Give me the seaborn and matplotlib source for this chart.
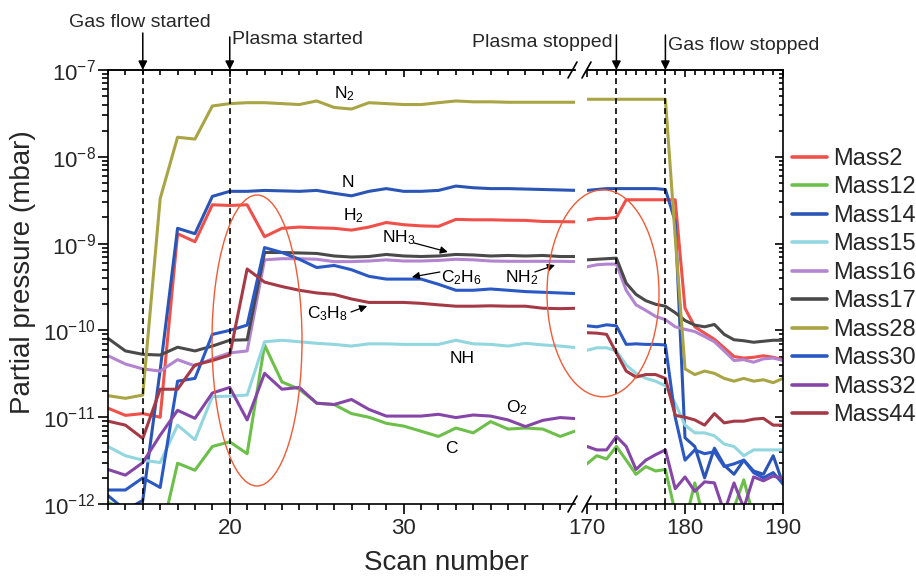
import matplotlib
matplotlib.use("Agg")
import matplotlib.pyplot as plt
import matplotlib.transforms as mtransforms
import numpy as np
import pandas as pd
import seaborn as sns
from matplotlib.patches import Ellipse
from matplotlib.lines import Line2D
from matplotlib.ticker import LogLocator, MultipleLocator, LogFormatterMathtext, NullFormatter

# ---------------- data ----------------
scans_left = list(range(13, 41))
scans_right = list(range(170, 191))

series_names = ["Mass2", "Mass12", "Mass14", "Mass15", "Mass16",
                "Mass17", "Mass28", "Mass30", "Mass32", "Mass44"]
series_colors = ["#f0504a", "#6cc04a", "#2a55b5", "#92d6e0", "#b384cf",
                 "#4a4a4a", "#a9a444", "#2a58c4", "#8646a8", "#a53a46"]

mass2_left = [1.27e-11, 1.05e-11, 1.1e-11, 1.0e-11, 1.3e-9, 1.05e-9, 2.8e-9, 2.75e-9, 2.8e-9, 1.2e-9,
              1.5e-9, 1.55e-9, 1.52e-9, 1.5e-9, 1.43e-9, 1.55e-9, 1.75e-9, 1.65e-9, 1.6e-9, 1.58e-9,
              1.9e-9, 1.88e-9, 1.88e-9, 1.86e-9, 1.85e-9, 1.8e-9, 1.79e-9, 1.78e-9]
mass12_left = [1.05e-12, 0.85e-12, 0.9e-12, 0.4e-12, 2.95e-12, 2.45e-12, 4.6e-12, 5.2e-12, 3.8e-12, 6.8e-11,
               2.55e-11, 2.1e-11, 1.45e-11, 1.4e-11, 1.1e-11, 1.0e-11, 8.5e-12, 7.9e-12, 6.9e-12, 6.0e-12,
               7.5e-12, 6.6e-12, 8.9e-12, 7.3e-12, 7.5e-12, 7.3e-12, 6.0e-12, 7.1e-12]
mass14_left = [1.25e-12, 0.85e-12, 1.1e-12, 3.5e-11, 1.5e-9, 1.3e-9, 3.5e-9, 4.0e-9, 4.0e-9, 4.1e-9,
               4.05e-9, 4.0e-9, 4.1e-9, 3.8e-9, 3.55e-9, 4.0e-9, 4.3e-9, 4.0e-9, 4.0e-9, 4.1e-9,
               4.6e-9, 4.4e-9, 4.3e-9, 4.3e-9, 4.25e-9, 4.2e-9, 4.15e-9, 4.1e-9]
mass15_left = [4.6e-12, 3.6e-12, 3.2e-12, 3.0e-12, 8.1e-12, 5.5e-12, 1.72e-11, 1.75e-11, 1.8e-11, 7.4e-11,
               7.7e-11, 7.4e-11, 7.1e-11, 6.9e-11, 6.6e-11, 7.0e-11, 7.0e-11, 6.9e-11, 6.9e-11, 6.9e-11,
               7.7e-11, 7.0e-11, 6.9e-11, 6.6e-11, 7.1e-11, 6.8e-11, 6.6e-11, 6.3e-11]
mass16_left = [5.1e-11, 4.1e-11, 3.6e-11, 3.4e-11, 4.6e-11, 3.9e-11, 4.7e-11, 5.5e-11, 5.8e-11, 6.5e-10,
               6.7e-10, 6.7e-10, 6.6e-10, 6.2e-10, 6.2e-10, 6.3e-10, 6.5e-10, 6.3e-10, 6.3e-10, 6.4e-10,
               6.6e-10, 6.5e-10, 6.3e-10, 6.25e-10, 6.25e-10, 6.25e-10, 6.25e-10, 6.2e-10]
mass17_left = [8.1e-11, 5.8e-11, 5.3e-11, 5.2e-11, 6.4e-11, 5.8e-11, 6.6e-11, 7.7e-11, 7.8e-11, 7.9e-10,
               7.9e-10, 7.8e-10, 7.7e-10, 7.2e-10, 7.0e-10, 7.1e-10, 7.5e-10, 7.2e-10, 7.1e-10, 7.2e-10,
               7.5e-10, 7.4e-10, 7.2e-10, 7.3e-10, 7.2e-10, 7.3e-10, 7.1e-10, 7.1e-10]
mass28_left = [1.77e-11, 1.65e-11, 1.8e-11, 3.3e-9, 1.68e-8, 1.6e-8, 3.85e-8, 4.1e-8, 4.2e-8, 4.2e-8,
               4.1e-8, 4.0e-8, 4.4e-8, 3.7e-8, 3.55e-8, 4.2e-8, 4.1e-8, 4.0e-8, 4.0e-8, 4.2e-8,
               4.4e-8, 4.3e-8, 4.3e-8, 4.25e-8, 4.25e-8, 4.25e-8, 4.25e-8, 4.25e-8]
mass30_left = [1.45e-12, 1.45e-12, 2.0e-12, 1.55e-12, 2.6e-11, 2.8e-11, 9.0e-11, 1.0e-10, 1.15e-10, 9.0e-10,
               7.9e-10, 6.6e-10, 5.3e-10, 5.6e-10, 5.0e-10, 4.2e-10, 3.9e-10, 3.9e-10, 3.9e-10, 3.4e-10,
               2.9e-10, 2.9e-10, 3.0e-10, 2.9e-10, 2.8e-10, 2.75e-10, 2.7e-10, 2.65e-10]
mass32_left = [2.5e-12, 2.15e-12, 3.0e-12, 6.2e-12, 1.2e-11, 9.7e-12, 1.9e-11, 2.2e-11, 9.3e-12, 3.2e-11,
               2.1e-11, 2.2e-11, 1.45e-11, 1.4e-11, 1.6e-11, 1.23e-11, 1.03e-11, 1.03e-11, 1.03e-11, 1.08e-11,
               9.9e-12, 1.06e-11, 1.03e-11, 9.3e-12, 7.8e-12, 9.2e-12, 9.9e-12, 9.6e-12]
mass44_left = [9.0e-12, 8.1e-12, 5.7e-12, 2.1e-11, 2.1e-11, 4.0e-11, 4.5e-11, 5.2e-11, 5.1e-10, 3.6e-10,
               3.2e-10, 2.9e-10, 2.7e-10, 2.6e-10, 2.3e-10, 2.1e-10, 2.1e-10, 2.1e-10, 2.05e-10, 1.97e-10,
               1.9e-10, 1.9e-10, 1.92e-10, 1.9e-10, 1.9e-10, 1.8e-10, 1.78e-10, 1.8e-10]

mass2_right = [1.87e-9, 1.95e-9, 1.95e-9, 2.0e-9, 3.2e-9, 3.2e-9, 3.2e-9, 3.2e-9, 3.2e-9, 3.2e-9,
               1.8e-10, 1.1e-10, 9.3e-11, 7.9e-11, 6.3e-11, 5.0e-11, 4.8e-11, 4.9e-11, 5.1e-11, 4.9e-11, 4.6e-11]
mass12_right = [2.9e-12, 3.6e-12, 3.3e-12, 4.6e-12, 3.2e-12, 2.2e-12, 2.7e-12, 2.4e-12, 2.5e-12, 0.8e-12,
                0.6e-12, 1.75e-12, 0.6e-12, 0.5e-12, 0.6e-12, 0.9e-12, 1.9e-12, 0.7e-12, 0.5e-12, 0.5e-12, 0.5e-12]
mass14_right = [4.1e-9, 4.2e-9, 4.3e-9, 4.3e-9, 4.3e-9, 4.3e-9, 4.3e-9, 4.3e-9, 4.2e-9, 1.8e-9,
                5.8e-12, 4.6e-12, 2.0e-12, 4.4e-12, 2.8e-12, 2.2e-12, 3.2e-12, 2.4e-12, 2.2e-12, 3.6e-12, 1.7e-12]
mass15_right = [5.9e-11, 6.3e-11, 6.3e-11, 5.8e-11, 4.0e-11, 3.2e-11, 2.8e-11, 2.6e-11, 2.3e-11, 1.45e-11,
                8.1e-12, 6.6e-12, 6.6e-12, 6.1e-12, 4.9e-12, 4.6e-12, 3.6e-12, 4.2e-12, 4.2e-12, 4.2e-12, 4.2e-12]
mass16_right = [5.4e-10, 5.7e-10, 5.8e-10, 5.8e-10, 2.9e-10, 1.97e-10, 1.7e-10, 1.45e-10, 1.33e-10, 1.1e-10,
                1.03e-10, 9.7e-11, 8.5e-11, 7.4e-11, 5.8e-11, 4.5e-11, 4.6e-11, 4.3e-11, 4.7e-11, 4.8e-11, 4.5e-11]
mass17_right = [6.5e-10, 6.6e-10, 6.7e-10, 6.8e-10, 3.5e-10, 2.6e-10, 2.2e-10, 2.0e-10, 1.9e-10, 1.6e-10,
                1.3e-10, 1.15e-10, 1.1e-10, 1.17e-10, 9.0e-11, 7.8e-11, 7.6e-11, 7.3e-11, 7.5e-11, 7.7e-11, 7.7e-11]
mass28_right = [4.6e-8, 4.6e-8, 4.6e-8, 4.6e-8, 4.6e-8, 4.6e-8, 4.6e-8, 4.6e-8, 4.6e-8, 1.2e-9,
                3.6e-11, 3.1e-11, 3.4e-11, 3.2e-11, 2.8e-11, 2.6e-11, 2.8e-11, 2.6e-11, 2.7e-11, 2.5e-11, 2.8e-11]
mass30_right = [1.13e-10, 1.1e-10, 1.16e-10, 1.13e-10, 6.9e-11, 7.0e-11, 6.9e-11, 6.9e-11, 6.8e-11, 1.0e-11,
                3.2e-12, 4.2e-12, 3.8e-12, 4.0e-12, 2.7e-12, 2.9e-12, 3.2e-12, 2.3e-12, 2.0e-12, 2.3e-12, 1.7e-12]
mass32_right = [4.6e-12, 4.2e-12, 4.2e-12, 6.0e-12, 4.6e-12, 2.5e-12, 3.2e-12, 3.7e-12, 4.2e-12, 1.5e-12,
                2.05e-12, 1.4e-12, 1.8e-12, 1.75e-12, 0.8e-12, 1.75e-12, 0.9e-12, 2.05e-12, 1.85e-12, 2.1e-12, 1.95e-12]
mass44_right = [9.4e-11, 9.3e-11, 9.0e-11, 5.5e-11, 3.4e-11, 2.9e-11, 3.1e-11, 3.1e-11, 2.8e-11, 1.05e-11,
                1.0e-11, 9.3e-12, 8.1e-12, 1.1e-11, 8.6e-12, 9.0e-12, 9.0e-12, 9.5e-12, 9.7e-12, 8.1e-12, 8.1e-12]

left_values = dict(zip(series_names, [mass2_left, mass12_left, mass14_left, mass15_left, mass16_left,
                                      mass17_left, mass28_left, mass30_left, mass32_left, mass44_left]))
right_values = dict(zip(series_names, [mass2_right, mass12_right, mass14_right, mass15_right, mass16_right,
                                       mass17_right, mass28_right, mass30_right, mass32_right, mass44_right]))

rows = []
for name in series_names:
    for s, v in zip(scans_left, left_values[name]):
        rows.append(("left", name, s, v))
    for s, v in zip(scans_right, right_values[name]):
        rows.append(("right", name, s, v))
df = pd.DataFrame(rows, columns=["segment", "series", "scan", "pressure"])

# ---------------- style ----------------
sns.set_theme(style="ticks")
plt.rcParams["font.family"] = ["Liberation Sans", "DejaVu Sans"]
plt.rcParams["mathtext.fontset"] = "custom"
plt.rcParams["mathtext.rm"] = "Liberation Sans"
plt.rcParams["mathtext.it"] = "Liberation Sans:italic"
plt.rcParams["mathtext.default"] = "regular"
plt.rcParams["axes.unicode_minus"] = True

W, H = 916, 577
def fx(x):
    return x / W
def fy(y):
    return (H - y) / H
def fr(y):  # axes fraction from pixel row
    return (504 - y) / 434.0

fig = plt.figure(figsize=(W / 100, H / 100), dpi=100)
ax1 = fig.add_axes([fx(108), fy(504), fx(575) - fx(108), fy(70) - fy(504)])
ax2 = fig.add_axes([fx(587), fy(504), fx(783) - fx(587), fy(70) - fy(504)])

palette = dict(zip(series_names, series_colors))
for ax, seg in ((ax1, "left"), (ax2, "right")):
    sns.lineplot(data=df[df["segment"] == seg], x="scan", y="pressure", hue="series",
                 hue_order=series_names, palette=palette, estimator=None, linewidth=2.2,
                 ax=ax, legend=(seg == "left"))
    ax.set_yscale("log")
    ax.set_ylim(1e-12, 1e-7)
    ax.set_xlabel("")
    ax.set_ylabel("")

handles, labels = ax1.get_legend_handles_labels()
ax1.get_legend().remove()
for h in handles:
    h.set_linewidth(2.6)

ax1.set_xlim(13, 39.85)
ax2.set_xlim(170, 190)
ax1.spines["right"].set_visible(False)
ax2.spines["left"].set_visible(False)

for ax in (ax1, ax2):
    for sp in ax.spines.values():
        sp.set_linewidth(1.2)
        sp.set_color("black")
    ax.xaxis.set_major_locator(MultipleLocator(10))
    ax.xaxis.set_minor_locator(MultipleLocator(1))
    ax.yaxis.set_major_locator(LogLocator(base=10, numticks=12))
    ax.yaxis.set_minor_locator(LogLocator(base=10, subs=np.arange(2, 10), numticks=12))
    ax.yaxis.set_minor_formatter(NullFormatter())
    ax.tick_params(axis="x", which="both", direction="out", bottom=True, top=False,
                   width=1.2, color="black", labelsize=16, pad=3)
    ax.tick_params(axis="x", which="major", length=7)
    ax.tick_params(axis="x", which="minor", length=4)
    sec = ax.secondary_xaxis("top")
    sec.xaxis.set_major_locator(MultipleLocator(10))
    sec.xaxis.set_minor_locator(MultipleLocator(1))
    sec.xaxis.set_major_formatter(NullFormatter())
    sec.tick_params(axis="x", which="both", direction="in", width=1.2, color="black", labeltop=False)
    sec.tick_params(axis="x", which="major", length=5)
    sec.tick_params(axis="x", which="minor", length=3.5)
    sec.spines["top"].set_linewidth(1.2)

ax1.yaxis.set_ticks_position("left")
ax1.yaxis.set_major_formatter(LogFormatterMathtext())
ax1.tick_params(axis="y", which="both", direction="out", width=1.2, color="black",
                labelsize=16, pad=2)
ax1.tick_params(axis="y", which="major", length=7)
ax1.tick_params(axis="y", which="minor", length=4)

ax2.yaxis.set_ticks_position("right")
ax2.tick_params(axis="y", which="both", direction="in", width=1.2, color="black",
                labelleft=False, labelright=False)
ax2.tick_params(axis="y", which="major", length=6)
ax2.tick_params(axis="y", which="minor", length=3)

# axis break marks
for Y in (70, 504):
    for x0 in (568, 582):
        fig.add_artist(Line2D([fx(x0), fx(x0 + 9)], [fy(Y + 8), fy(Y - 8)],
                              transform=fig.transFigure, color="black", lw=1.2))

# event lines, arrows and texts
dash = (0, (3.5, 2.5))
events = [(ax1, 15, 33), (ax1, 20, 37), (ax2, 173, 35), (ax2, 178, 35)]
for ax, xv, ytop in events:
    ax.axvline(xv, color="black", lw=1.2, ls=dash, zorder=5)
    ax.annotate("", xy=(xv, 1.0), xycoords=("data", "axes fraction"),
                xytext=(xv, fr(ytop)), textcoords=("data", "axes fraction"),
                arrowprops=dict(arrowstyle="-|>", color="black", lw=1.1,
                                mutation_scale=13, shrinkA=0, shrinkB=0),
                annotation_clip=False)

tr1 = mtransforms.blended_transform_factory(ax1.transData, ax1.transAxes)
tr2 = mtransforms.blended_transform_factory(ax2.transData, ax2.transAxes)
ax1.text(14.85, fr(26.7), "Gas flow started", transform=tr1, ha="center", va="baseline", fontsize=14)
ax1.text(20.15, fr(44), "Plasma started", transform=tr1, ha="left", va="baseline", fontsize=14)
ax2.text(172.6, fr(47), "Plasma stopped", transform=tr2, ha="right", va="baseline", fontsize=14)
ax2.text(178.3, fr(50), "Gas flow stopped", transform=tr2, ha="left", va="baseline", fontsize=14)

# species labels
lab_fs = 12.5
species = [("N$_2$", 26.6, 5.4e-8), ("N", 26.8, 5.1e-9), ("H$_2$", 27.1, 2.1e-9),
           ("NH$_3$", 29.7, 1.16e-9), ("C$_2$H$_6$", 33.3, 4.1e-10), ("NH$_2$", 36.8, 4.1e-10),
           ("C$_3$H$_8$", 25.6, 1.58e-10), ("NH", 33.35, 4.7e-11), ("O$_2$", 36.5, 1.3e-11),
           ("C", 32.77, 4.4e-12)]
for txt, xs, ys in species:
    ax1.text(xs, ys, txt, ha="center", va="center", fontsize=lab_fs, color="black", zorder=6)

label_arrows = [((30.6, 10 ** -8.993), (32.54, 10 ** -9.097)),
                ((32.08, 10 ** -9.327), (30.47, 10 ** -9.385)),
                ((37.54, 10 ** -9.327), (38.7, 10 ** -9.247)),
                ((26.97, 10 ** -9.788), (27.9, 10 ** -9.719))]
for tail, head in label_arrows:
    ax1.annotate("", xy=head, xytext=tail,
                 arrowprops=dict(arrowstyle="-|>", color="black", lw=0.9,
                                 mutation_scale=11, shrinkA=0, shrinkB=0), zorder=6)

# red ellipses
fig.add_artist(Ellipse((fx(257), fy(340.5)), 90 / W, 291 / H, transform=fig.transFigure,
                       fill=False, edgecolor="#f05a35", lw=1.0))
fig.add_artist(Ellipse((fx(603), fy(293.3)), 112 / W, 207 / H, transform=fig.transFigure,
                       fill=False, edgecolor="#f05a35", lw=1.0))

# axis labels
fig.text(fx(23.5), fy(272), "Partial pressure (mbar)", rotation=90, ha="center", va="center", fontsize=20)
fig.text(fx(446), fy(570), "Scan number", ha="center", va="baseline", fontsize=20)

# legend
fig.legend(handles, labels, loc="upper left", bbox_to_anchor=(fx(792), fy(148)),
           bbox_transform=fig.transFigure, frameon=False, fontsize=17, handlelength=1.5,
           handletextpad=0.25, labelspacing=0.275, borderpad=0, borderaxespad=0)

fig.savefig("out.png", dpi=100)
